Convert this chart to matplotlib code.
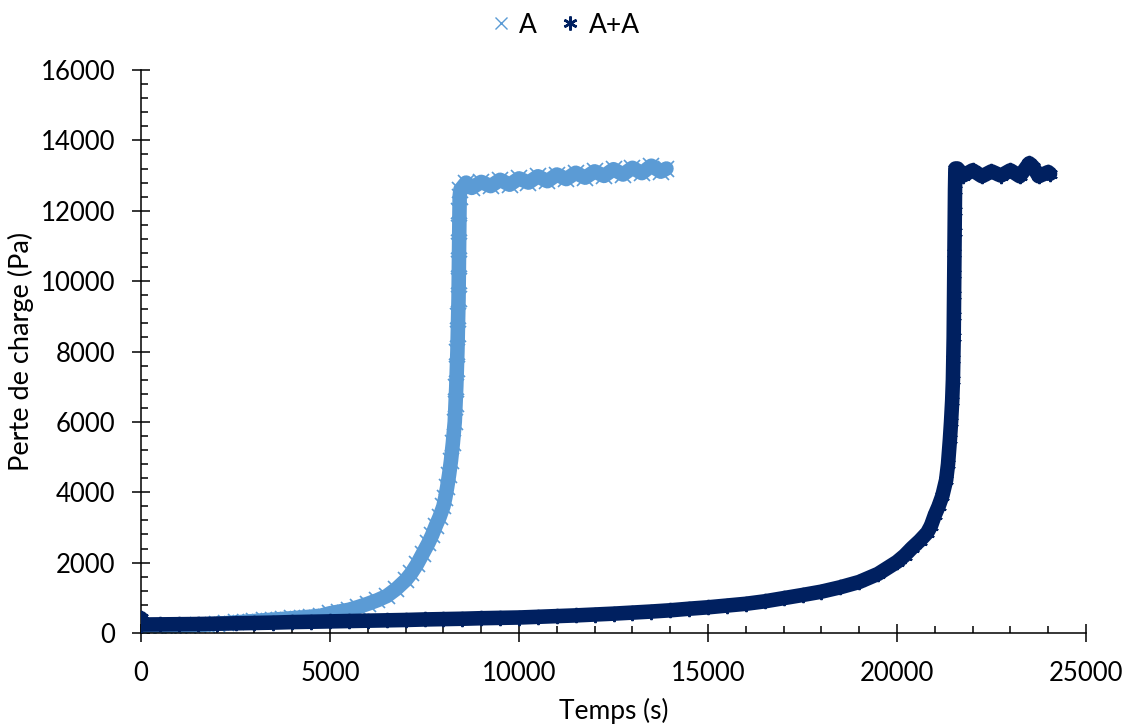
import matplotlib
matplotlib.use("Agg")
import matplotlib.pyplot as plt
from matplotlib.ticker import MultipleLocator
from matplotlib.lines import Line2D

plt.rcParams['font.family'] = ['Lato', 'DejaVu Sans']

# Series A (light blue)
a_t = [0, 250, 500, 750, 1000, 1250, 1500, 1750, 2000, 2250, 2500, 2750, 3000, 3250,
       3500, 3750, 4000, 4250, 4500, 4750, 5000, 5250, 5500, 5750, 6000, 6250, 6500,
       6750, 7000, 7150, 7300, 7450, 7600, 7700, 7800, 7900, 8000, 8050, 8100, 8150,
       8200, 8250, 8300, 8320, 8340, 8355, 8370, 8380, 8390, 8400, 8405, 8410, 8415,
       8420, 8425, 8430, 8450, 8600, 8750, 9000, 9250, 9500, 9750, 10000, 10250,
       10500, 10750, 11000, 11250, 11500, 11750, 12000, 12250, 12500, 12750, 13000,
       13250, 13500, 13750, 13900]
a_p = [110, 130, 150, 170, 190, 205, 220, 240, 260, 280, 300, 320, 340, 360,
       380, 400, 420, 440, 465, 490, 560, 610, 660, 740, 830, 930, 1050,
       1250, 1500, 1700, 1950, 2250, 2550, 2780, 3050, 3300, 3600, 3850, 4150, 4500,
       4900, 5400, 6000, 6500, 7000, 7500, 8000, 8500, 9000, 9500, 10000, 10500, 11000,
       11500, 12000, 12400, 12600, 12800, 12650, 12820, 12700, 12880, 12740, 12920, 12800,
       12980, 12840, 13030, 12900, 13080, 12940, 13120, 12990, 13180, 13030, 13220,
       13070, 13280, 13110, 13200]

# Series A+A (dark navy)
aa_t = [0, 0, 500, 1000, 1500, 2000, 2500, 3000, 3500, 4000, 4500, 5000, 5500, 6000,
        6500, 7000, 7500, 8000, 8500, 9000, 9500, 10000, 10500, 11000, 11500, 12000,
        12500, 13000, 13500, 14000, 14500, 15000, 15500, 16000, 16500, 17000, 17500,
        18000, 18500, 19000, 19500, 20000, 20200, 20400, 20600, 20800, 20900, 21000,
        21100, 21200, 21300, 21350, 21400, 21430, 21460, 21480, 21490, 21500, 21505,
        21510, 21515, 21520, 21525, 21530, 21535, 21545, 21600, 21750, 22000, 22250,
        22500, 22750, 23000, 23250, 23500, 23600, 23750, 24000, 24050]
aa_p = [420, 240, 245, 250, 255, 265, 275, 285, 295, 310, 320, 330, 340, 350,
        360, 370, 385, 395, 405, 420, 430, 440, 460, 480, 500, 525,
        550, 580, 610, 645, 690, 730, 780, 830, 900, 990, 1080,
        1175, 1300, 1450, 1680, 2020, 2200, 2420, 2620, 2850, 3050, 3350,
        3600, 3900, 4350, 4800, 5500, 6000, 6600, 7200, 7800, 8400, 9000,
        9600, 10200, 10800, 11400, 12000, 12600, 13200, 13200, 13000, 13150, 12980,
        13120, 13000, 13150, 12980, 13350, 13250, 12980, 13100, 13050]

c_a = '#5B9BD5'
c_aa = '#002060'

fig = plt.figure(figsize=(11.31, 7.24), dpi=100)
ax = fig.add_axes([0.1247, 0.1257, 0.8355, 0.7776])

ax.plot(a_t, a_p, color=c_a, lw=10.5, solid_joinstyle='round', solid_capstyle='round',
        marker='x', ms=11, mew=1.2, zorder=2)
ax.plot(aa_t, aa_p, color=c_aa, lw=10.5, solid_joinstyle='round', solid_capstyle='round',
        marker=(6, 2, 0), ms=11, mew=1.4, zorder=3)

ax.set_xlim(0, 25000)
ax.set_ylim(0, 16000)
ax.xaxis.set_major_locator(MultipleLocator(5000))
ax.xaxis.set_minor_locator(MultipleLocator(1000))
ax.yaxis.set_major_locator(MultipleLocator(2000))
ax.yaxis.set_minor_locator(MultipleLocator(400))

for s in ['top', 'right']:
    ax.spines[s].set_visible(False)
for s in ['left', 'bottom']:
    ax.spines[s].set_linewidth(1.1)
    ax.spines[s].set_color('black')

ax.tick_params(which='major', direction='inout', length=13, width=1.1, labelsize=18.5,
               colors='black')
ax.tick_params(which='minor', direction='in', length=5, width=1.1, colors='black')
ax.tick_params(axis='y', which='major', pad=12)
ax.tick_params(axis='x', which='major', pad=14)

ax.set_xlabel('Temps (s)', fontsize=19, labelpad=8)
ax.set_ylabel('Perte de charge (Pa)', fontsize=19.5)
ax.yaxis.set_label_coords(-0.113, 0.5)

handles = [Line2D([], [], ls='none', marker='x', color=c_a, ms=9, mew=1.0),
           Line2D([], [], ls='none', marker=(6, 2, 0), color=c_aa, ms=10, mew=1.8)]
fig.legend(handles, ['A', 'A+A'], loc='upper center', bbox_to_anchor=(0.5, 1.008),
           ncol=2, frameon=False, fontsize=19, handlelength=0.7, handletextpad=0.35,
           columnspacing=0.9, borderaxespad=0.3)

fig.savefig('out.png', dpi=100)
